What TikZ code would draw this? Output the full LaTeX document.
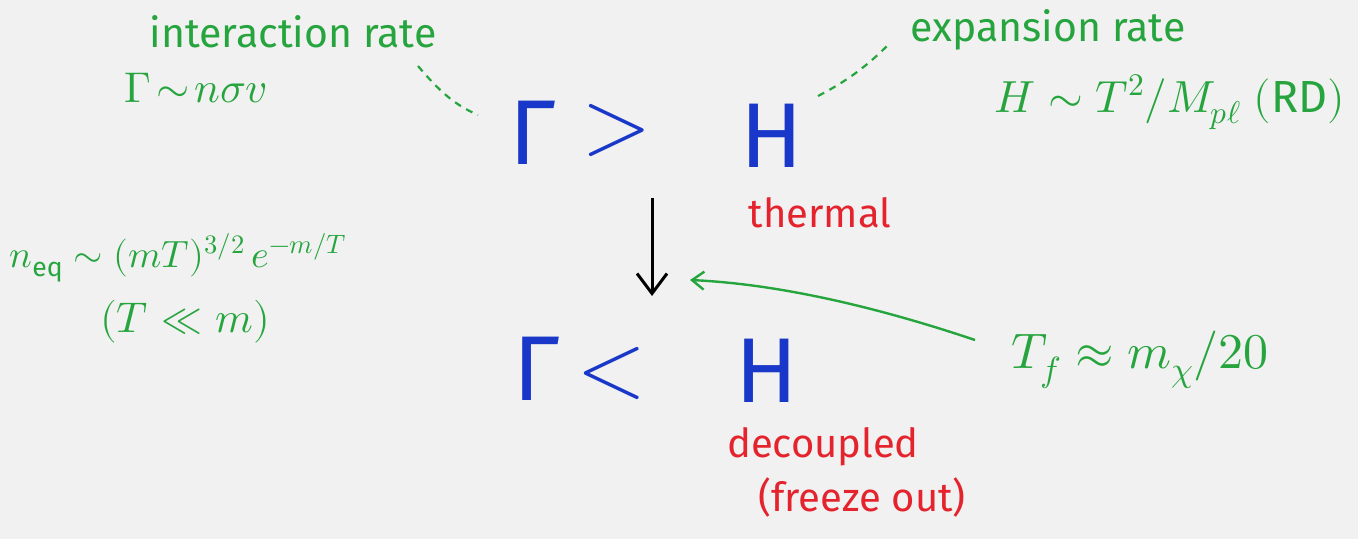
\documentclass[tikz,border=0pt]{standalone}
\usepackage{fontspec}
\usepackage{unicode-math}
\setmainfont{Fira Sans}
\setmathfont{Latin Modern Math}
\usetikzlibrary{arrows.meta}
\definecolor{bg}{RGB}{241,241,241}
\definecolor{pgreen}{RGB}{38,165,62}
\definecolor{pblue}{RGB}{25,55,200}
\definecolor{pred}{RGB}{228,35,45}
\tikzset{
  gtxt/.style={text=pgreen, inner sep=0pt, font=\fontsize{41}{46}\selectfont},
  gmath/.style={text=pgreen, inner sep=0pt, font=\fontsize{43}{46}\selectfont},
  rtxt/.style={text=pred, inner sep=0pt, font=\fontsize{40}{44}\selectfont},
  big/.style={text=pblue, inner sep=0pt, font=\fontsize{92}{96}\selectfont},
  bigrel/.style={text=pblue, inner sep=0pt, font=\fontsize{88}{92}\selectfont},
  gline/.style={draw=pgreen, line width=2.4pt},
  gdash/.style={draw=pgreen, line width=2.2pt, dash pattern=on 7pt off 6pt},
}
\begin{document}
\begin{tikzpicture}[x=1pt,y=-1pt]
\fill[bg] (0,0) rectangle (1358,539);
\useasboundingbox (0,0) rectangle (1358,539);
% labels top
\node[gtxt] (irate) at (293,32) {interaction rate};
\node[gmath] (gform) at (196,88) {$\Gamma\!\sim\! n\sigma v$};
\node[gtxt] (erate) at (1048,30) {expansion rate};
\node[gmath, anchor=east, font=\fontsize{45}{48}\selectfont] (hform) at (1345,102) {$H\sim T^{2}/M_{p\ell}\;\mathrm{(RD)}$};
% big relations
\node[big] (G1) at (533,133) {Γ};
\node[bigrel] (gt) at (617,130) {$>$};
\node[big] (H1) at (772,136) {H};
\node[big] (G2) at (537,369) {Γ};
\node[bigrel] (lt) at (612,373) {$<$};
\node[big] (H2) at (767,371) {H};
% red labels
\node[rtxt] (thermal) at (820,213) {thermal};
\node[rtxt] (dec) at (823,447) {decoupled};
\node[rtxt] (fo) at (862,497) {(freeze out)};
% left formulas
\node[gmath, font=\fontsize{38}{42}\selectfont] (neq) at (178,258) {$n_{\mathrm{eq}}\sim (mT)^{3/2}\,e^{-m/T}$};
\node[gmath] (tm) at (185,322) {$(T\ll m)$};
% T_f
\node[gmath, font=\fontsize{50}{54}\selectfont] (tf) at (1140,360) {$T_f\approx m_\chi/20$};
% connectors
\coordinate (a1) at (652,198);
\coordinate (a2) at (652,296);
\draw[line width=3pt, -{Straight Barb[length=20pt,width=30pt,line width=3pt]}] (a1) -- (a2);
\coordinate (ah) at (690,280);
\coordinate (at) at (975,340);
\draw[gline, -{Straight Barb[length=12pt,width=18pt]}] (at) .. controls (880,308) and (780,284) .. (ah);
\coordinate (d1) at (418,66);
\coordinate (d1b) at (478,115);
\draw[gdash] (d1) .. controls (440,92) and (455,105) .. (d1b);
\coordinate (d2) at (888,45);
\coordinate (d2b) at (818,96);
\draw[gdash] (d2b) .. controls (845,82) and (865,68) .. (d2);
\end{tikzpicture}
\end{document}
